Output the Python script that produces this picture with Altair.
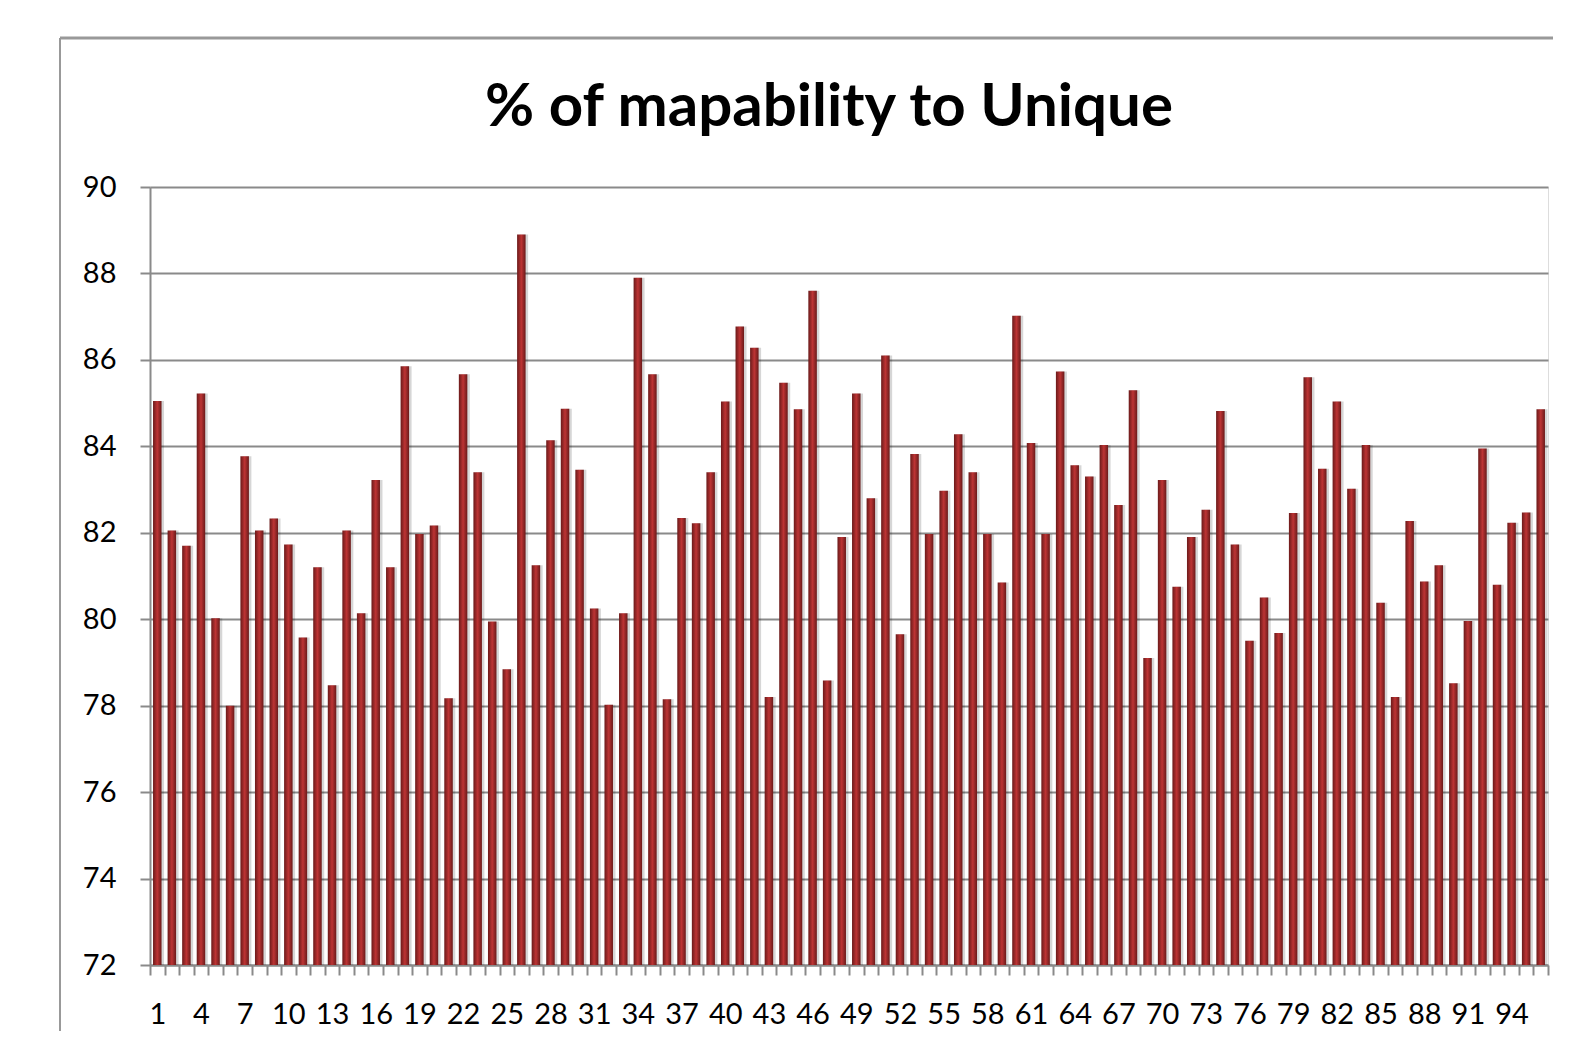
import altair as alt
import pandas as pd

bars = list(range(1, 97))
values = [85.05, 82.05, 81.70, 85.22, 80.02, 78.00, 83.77, 82.05, 82.33, 81.73,
          79.58, 81.20, 78.47, 82.05, 80.14, 83.22, 81.20, 85.85, 81.97, 82.17,
          78.17, 85.67, 83.40, 79.95, 78.84, 88.90, 81.25, 84.14, 84.87, 83.46,
          80.25, 78.02, 80.14, 87.90, 85.67, 78.15, 82.34, 82.22, 83.40, 85.04,
          86.77, 86.28, 78.20, 85.47, 84.86, 87.60, 78.58, 81.90, 85.22, 82.80,
          86.10, 79.65, 83.82, 81.97, 82.97, 84.28, 83.40, 81.97, 80.85, 87.02,
          84.08, 81.97, 85.73, 83.56, 83.30, 84.03, 82.64, 85.30, 79.10, 83.22,
          80.75, 81.90, 82.53, 84.82, 81.73, 79.50, 80.50, 79.68, 82.46, 85.60,
          83.48, 85.04, 83.02, 84.03, 80.38, 78.20, 82.27, 80.87, 81.25, 78.52,
          79.96, 83.95, 80.80, 82.23, 82.47, 84.86]
y_ticks = [72, 74, 76, 78, 80, 82, 84, 86, 88, 90]
title_text = "% of mapability to Unique"

df = pd.DataFrame({"n": bars, "v": values})

GRAY = "#8a8a8a"
FONT = "Lato"

x_enc = alt.X(
    "n:O",
    scale=alt.Scale(paddingInner=0, paddingOuter=0),
    axis=alt.Axis(
        labelExpr="datum.value % 3 == 1 ? datum.label : ''",
        labelAngle=0,
        labelOverlap=False,
        labelFlush=False,
        tickBand="extent",
        grid=False,
        title=None,
        tickSize=10,
        tickColor=GRAY,
        tickWidth=2,
        domainColor=GRAY,
        domainWidth=2,
        labelFontSize=29,
        labelPadding=25,
        labelColor="black",
        labelFont=FONT,
    ),
)
y_enc = alt.Y(
    "v:Q",
    scale=alt.Scale(domain=[72, 90], nice=False, zero=False),
    axis=alt.Axis(
        values=y_ticks,
        grid=True,
        gridColor=GRAY,
        gridWidth=2,
        gridOpacity=1,
        tickSize=10,
        tickColor=GRAY,
        tickWidth=2,
        domainColor=GRAY,
        domainWidth=2,
        labelFontSize=29,
        labelPadding=24,
        labelColor="black",
        labelFont=FONT,
        title=None,
    ),
)

grad = alt.Gradient(
    gradient="linear",
    stops=[
        alt.GradientStop(color="#6a1a1a", offset=0),
        alt.GradientStop(color="#bd3434", offset=0.5),
        alt.GradientStop(color="#6a1a1a", offset=1),
    ],
    x1=0, x2=1, y1=0, y2=0,
)

base = alt.Chart(df)
shadow = base.mark_bar(size=8.5, xOffset=2.5, color="#000000", opacity=0.16).encode(
    x=x_enc, y=y_enc, y2=alt.datum(72)
)
main = base.mark_bar(size=8.5, color=grad).encode(x=x_enc, y=y_enc, y2=alt.datum(72))

dummy = pd.DataFrame({"k": [0]})
border_top = alt.Chart(dummy).mark_rule(color="#999999", strokeWidth=3).encode(
    x=alt.value(-90), x2=alt.value(1440), y=alt.value(-149)
)
border_left = alt.Chart(dummy).mark_rule(color="#999999", strokeWidth=2).encode(
    x=alt.value(-90), y=alt.value(-149), y2=alt.value(900)
)
title_mark = alt.Chart(pd.DataFrame({"t": [title_text]})).mark_text(
    font=FONT, fontSize=60, fontWeight="bold", color="black",
    align="center", baseline="alphabetic",
).encode(text="t:N", x=alt.value(679), y=alt.value(-61))

chart = (
    alt.layer(shadow, main, border_top, border_left, title_mark)
    .properties(
        width=1398,
        height=778,
        autosize=alt.AutoSizeParams(type="none"),
        padding={"left": 142, "top": 179, "right": 5, "bottom": 66},
    )
    .configure_view(stroke=None)
    .configure(font=FONT, background="white")
)

chart.save("out.html", embed_options={"renderer": "svg", "actions": False})
